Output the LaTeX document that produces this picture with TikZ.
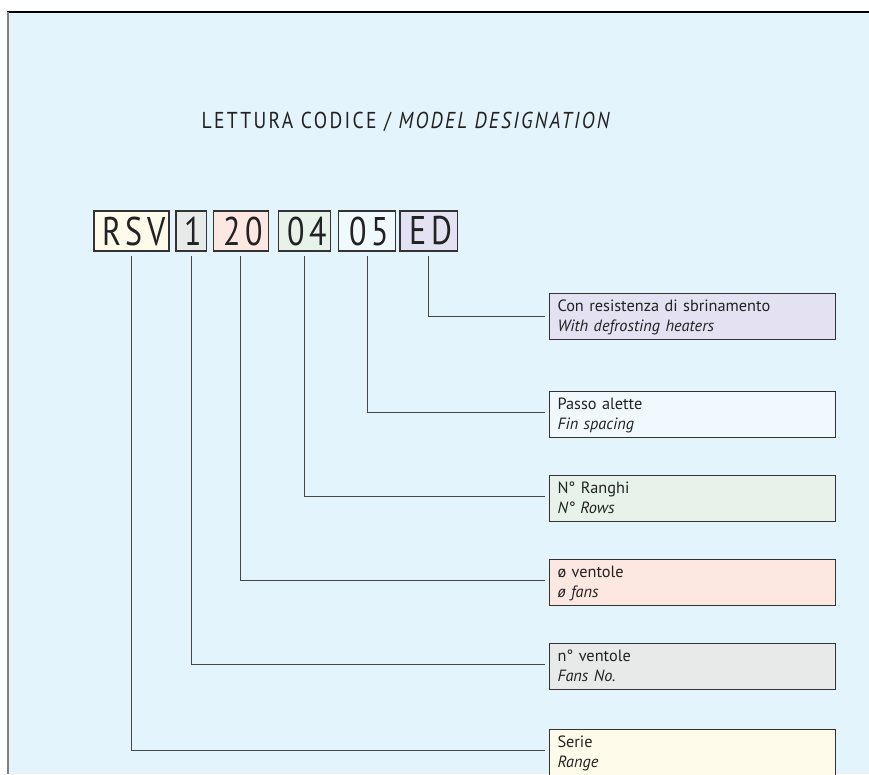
\documentclass[tikz,border=0pt]{standalone}
\usepackage{fontspec}
\setmainfont{PT Sans}
\newfontfamily\titlefont[FakeStretch=0.85,LetterSpace=10]{PT Sans}
\newfontfamily\codefont[FakeStretch=0.8,LetterSpace=12]{PT Sans}
\newfontfamily\labfont{PT Sans}
\definecolor{bg}{HTML}{E4F4FC}
\definecolor{cyel}{HTML}{FFFBEA}
\definecolor{cgray}{HTML}{E8EAEA}
\definecolor{cpink}{HTML}{FCE8E0}
\definecolor{cgreen}{HTML}{E6F2EA}
\definecolor{cblue}{HTML}{F0F9FD}
\definecolor{clav}{HTML}{E4E2F2}
\definecolor{edge}{HTML}{333333}
\definecolor{ink}{HTML}{222222}
\newcommand\lfirst{\rule{0pt}{14pt}}
\newcommand\llast{\rule[-4pt]{0pt}{4pt}}
\newcommand\trail{\kern-4.8pt}
\tikzset{
  codebox/.style={draw=edge, line width=1.4pt, minimum height=40pt, inner sep=0pt,
    font=\codefont\fontsize{40}{40}\selectfont, text=ink},
  labbox/.style={draw=edge, line width=1pt, minimum width=284pt, minimum height=45.5pt,
    text width=270pt, inner xsep=8pt, inner ysep=0pt, align=left, anchor=north west,
    font=\labfont\fontsize{16.3}{20}\selectfont, text=ink},
  conn/.style={draw=edge!90, line width=1pt, shorten <=4pt, shorten >=4pt}
}
\begin{document}
\begin{tikzpicture}[x=1pt,y=-1pt]
\useasboundingbox (0,0) rectangle (869,774);
\fill[bg] (8,12) rectangle (869,774);
\draw[black, line width=1.3pt] (7,12) -- (869,12);
\draw[gray, line width=2pt] (8,12) -- (8,774);

\node[anchor=base, text=ink, font=\titlefont\fontsize{23}{23}\selectfont] (title) at (407,128)
  {LETTURA CODICE / \textit{MODEL DESIGNATION}};

\node[codebox, fill=cyel,   minimum width=75pt] (rsv) at (131.6,231) {RSV\trail};
\node[codebox, fill=cgray,  minimum width=30.7pt] (one) at (191.3,231) {1\trail};
\node[codebox, fill=cpink,  minimum width=55pt] (twenty) at (240.8,231) {20\trail};
\node[codebox, fill=cgreen, minimum width=52pt] (four) at (304.7,231) {04\trail};
\node[codebox, fill=cblue,  minimum width=57.4pt] (five) at (367,231) {05\trail};
\node[codebox, fill=clav,   minimum width=57.7pt] (ed) at (428.8,231) {ED\trail};

\node[labbox, fill=clav]  (led)  at (549,293) {\lfirst Con resistenza di sbrinamento\\\textit{With defrosting heaters}\llast};
\node[labbox, fill=cblue] (lfive) at (549,391) {\lfirst Passo alette\\\textit{Fin spacing}\llast};
\node[labbox, fill=cgreen] (lfour) at (549,475) {\lfirst N° Ranghi\\\textit{N° Rows}\llast};
\node[labbox, fill=cpink] (ltwenty) at (549,559) {\lfirst ø ventole\\\textit{ø fans}\llast};
\node[labbox, fill=cgray] (lone) at (549,643) {\lfirst n° ventole\\\textit{Fans No.}\llast};
\node[labbox, fill=cyel]  (lrsv) at (549,729) {\lfirst Serie\\\textit{Range}\llast};

\draw[conn] (ed.south) |- (led.west);
\draw[conn] (five.south) |- ([yshift=2pt]lfive.west);
\draw[conn] (four.south) |- ([yshift=2pt]lfour.west);
\draw[conn] (twenty.south) |- ([yshift=2pt]ltwenty.west);
\draw[conn] (one.south) |- ([yshift=2pt]lone.west);
\draw[conn] (rsv.south) |- ([yshift=2pt]lrsv.west);
\end{tikzpicture}
\end{document}
